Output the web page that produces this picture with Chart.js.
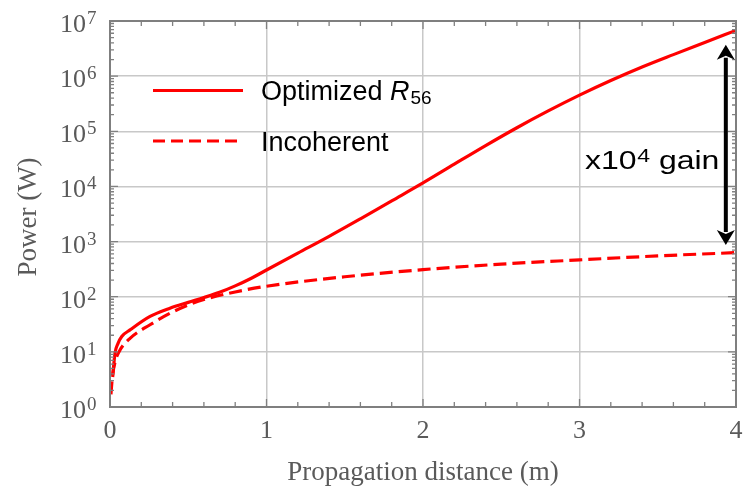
<!DOCTYPE html>
<html><head><meta charset="utf-8">
<script src="https://cdn.jsdelivr.net/npm/chart.js@4.4.0/dist/chart.umd.min.js"></script>
<style>html,body{margin:0;padding:0;background:#fff;overflow:hidden}canvas{display:block}</style>
</head><body>
<canvas id="c" width="748" height="488"></canvas>
<script>
// ---- data ----
const xOpt = [0.017,0.032,0.05,0.075,0.128,0.256,0.383,0.5,0.6,0.7,0.8,0.9,1.0,1.2,1.4,1.6,1.8,2.0,2.2,2.4,2.6,2.8,3.0,3.2,3.4,3.6,3.8,4.0];
const yOpt = [3.5,9.5,14,19,25,44,62,79,96.6,120,157,214,305,617,1245,2590,5470,11560,25300,55000,116000,234000,452000,832000,1462000,2455000,4074000,6760000];
const xInc = [0.006,0.015,0.032,0.064,0.128,0.256,0.383,0.5,0.6,0.8,1.0,1.5,2.0,2.5,3.0,3.5,4.0];
const yInc = [1.7,3.5,6.5,10.8,17.6,31,50,71,89,122,155,230,310,390,465,550,630];
const xTicks = [0,1,2,3,4];
const yTickExp = [0,1,2,3,4,5,6,7];
const xTitle = 'Propagation distance (m)';
const yTitle = 'Power (W)';
const legendOpt = 'Optimized ';
const legendInc = 'Incoherent';
const gainText = ['x10','4',' gain'];

const RED = 'rgb(255,0,0)';
const TXT = '#5a5a5a';
const SERIF = '"Liberation Serif","Times New Roman",serif';
const SANS = '"Liberation Sans",Arial,Helvetica,sans-serif';

const deco = {
  id: 'deco',
  afterDraw(chart) {
    const ctx = chart.ctx, a = chart.chartArea, xs = chart.scales.x, ys = chart.scales.y;
    ctx.save();
    // tick marks
    ctx.strokeStyle = '#808080'; ctx.lineWidth = 1.3;
    ctx.beginPath();
    for (let i = 0; i <= 20; i++) {
      const v = i * 0.2, px = xs.getPixelForValue(v);
      const L = (i % 5 === 0) ? 8 : 5;
      ctx.moveTo(px, a.bottom); ctx.lineTo(px, a.bottom - L);
      ctx.moveTo(px, a.top); ctx.lineTo(px, a.top + L);
    }
    for (let d = 0; d < 7; d++) for (let m = 1; m < 10; m++) {
      const py = ys.getPixelForValue(m * Math.pow(10, d));
      const L = m === 1 ? 8 : 4;
      ctx.moveTo(a.left, py); ctx.lineTo(a.left + L, py);
      ctx.moveTo(a.right, py); ctx.lineTo(a.right - L, py);
    }
    ctx.stroke();
    // frame
    ctx.lineWidth = 2; ctx.strokeStyle = '#7f7f7f';
    ctx.strokeRect(a.left, a.top, a.right - a.left, a.bottom - a.top);

    // y tick labels 10^n
    ctx.fillStyle = TXT;
    ctx.textBaseline = 'alphabetic';
    yTickExp.forEach(e => {
      const py = ys.getPixelForValue(Math.pow(10, e));
      ctx.font = '26px ' + SERIF; ctx.textAlign = 'right';
      ctx.fillText('10', a.left - 24, py + 11);
      ctx.font = '19px ' + SERIF; ctx.textAlign = 'left';
      ctx.fillText(String(e), a.left - 23, py + 3);
    });
    // x tick labels
    ctx.font = '26px ' + SERIF; ctx.textAlign = 'center';
    xTicks.forEach(v => {
      ctx.fillText(String(v), xs.getPixelForValue(v), a.bottom + 31);
    });
    // titles
    ctx.font = '27px ' + SERIF;
    ctx.fillText(xTitle, (a.left + a.right) / 2, a.bottom + 73);
    ctx.save();
    ctx.translate(36, (a.top + a.bottom) / 2 + 3);
    ctx.rotate(-Math.PI / 2);
    ctx.fillText(yTitle, 0, 0);
    ctx.restore();

    // legend
    ctx.strokeStyle = RED; ctx.lineWidth = 3;
    ctx.beginPath(); ctx.moveTo(153, 90.5); ctx.lineTo(243, 90.5); ctx.stroke();
    ctx.setLineDash([12, 6]);
    ctx.beginPath(); ctx.moveTo(153, 141); ctx.lineTo(243, 141); ctx.stroke();
    ctx.setLineDash([]);
    ctx.fillStyle = '#000'; ctx.textAlign = 'left';
    ctx.font = '27px ' + SANS;
    ctx.fillText(legendOpt, 261, 99.5);
    let w = ctx.measureText(legendOpt).width;
    ctx.font = 'italic 27px ' + SANS;
    ctx.fillText('R', 261 + w, 99.5);
    w += ctx.measureText('R').width;
    ctx.font = '19px ' + SANS;
    ctx.fillText('56', 261 + w + 1, 103.5);
    ctx.font = '27px ' + SANS;
    ctx.fillText(legendInc, 261, 150.5);

    // gain annotation
    const tx = xs.getPixelForValue(3.035), ty = ys.getPixelForValue(Math.pow(10, 4.32));
    ctx.save();
    ctx.translate(tx, ty); ctx.scale(1.28, 1);
    ctx.font = '25px ' + SANS;
    ctx.fillText(gainText[0], 0, 0);
    let gw = ctx.measureText(gainText[0]).width;
    ctx.font = '18px ' + SANS;
    ctx.fillText(gainText[1], gw + 0.5, -6.5);
    gw += ctx.measureText(gainText[1]).width + 0.5;
    ctx.font = '25px ' + SANS;
    ctx.fillText(gainText[2], gw, 0);
    ctx.restore();

    // double arrow
    const ax = xs.getPixelForValue(3.935);
    const y1 = ys.getPixelForValue(Math.pow(10, 6.57));
    const y2 = ys.getPixelForValue(Math.pow(10, 2.94));
    const hh = 15, hw = 9;
    ctx.strokeStyle = '#000'; ctx.fillStyle = '#000'; ctx.lineWidth = 4;
    ctx.beginPath(); ctx.moveTo(ax, y1 + hh - 2); ctx.lineTo(ax, y2 - hh + 2); ctx.stroke();
    ctx.beginPath(); ctx.moveTo(ax, y1); ctx.lineTo(ax + hw, y1 + hh); ctx.lineTo(ax, y1 + hh - 4); ctx.lineTo(ax - hw, y1 + hh); ctx.closePath(); ctx.fill();
    ctx.beginPath(); ctx.moveTo(ax, y2); ctx.lineTo(ax + hw, y2 - hh); ctx.lineTo(ax, y2 - hh + 4); ctx.lineTo(ax - hw, y2 - hh); ctx.closePath(); ctx.fill();
    ctx.restore();
  }
};

new Chart(document.getElementById('c'), {
  type: 'line',
  data: {
    datasets: [
      { label: 'Optimized R56', data: xOpt.map((x, i) => ({x, y: yOpt[i]})), borderColor: RED, borderWidth: 3.2, pointRadius: 0, cubicInterpolationMode: 'monotone', fill: false },
      { label: 'Incoherent', data: xInc.map((x, i) => ({x, y: yInc[i]})), borderColor: RED, borderWidth: 3.2, borderDash: [13, 6], pointRadius: 0, cubicInterpolationMode: 'monotone', fill: false }
    ]
  },
  options: {
    responsive: false, animation: false, devicePixelRatio: 1,
    layout: { padding: { left: 110, right: 12, top: 21, bottom: 81 } },
    plugins: { legend: { display: false }, tooltip: { enabled: false } },
    scales: {
      x: { type: 'linear', min: 0, max: 4,
        afterBuildTicks: s => { s.ticks = xTicks.map(v => ({ value: v })); },
        ticks: { display: false }, grid: { color: '#c8c8c8', lineWidth: 1.5, drawTicks: false }, border: { display: false } },
      y: { type: 'logarithmic', min: 1, max: 1e7,
        afterBuildTicks: s => { s.ticks = yTickExp.map(e => ({ value: Math.pow(10, e) })); },
        ticks: { display: false }, grid: { color: '#c8c8c8', lineWidth: 1.5, drawTicks: false }, border: { display: false } }
    }
  },
  plugins: [deco]
});
</script>
</body></html>
